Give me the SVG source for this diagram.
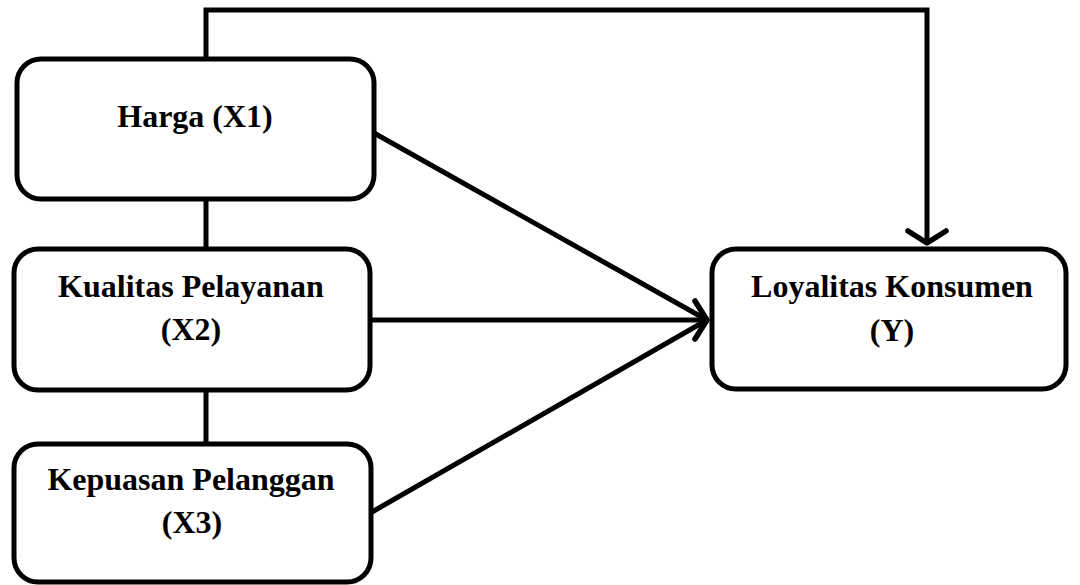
<svg xmlns="http://www.w3.org/2000/svg" width="1080" height="585" viewBox="0 0 1080 585">
<style>
.box{fill:#fff;stroke:#000;stroke-width:5}
.lbl{font-family:"Liberation Serif","Times New Roman",serif;font-weight:bold;font-size:32px;fill:#000;text-anchor:middle}
.con{fill:none;stroke:#000;stroke-width:5}
</style>
<defs>
<marker id="ah" markerUnits="userSpaceOnUse" markerWidth="40" markerHeight="50" viewBox="-20 -25 40 50" refX="0" refY="0" orient="auto">
<path d="M-12,-19 L0,0 L-12,19" fill="none" stroke="#000" stroke-width="5.5" stroke-linecap="round" stroke-linejoin="round"/>
</marker>
</defs>
<rect width="1080" height="585" fill="#fff"/>
<g id="connectors">
<path class="con" d="M206,59 V10 H927 V243" marker-end="url(#ah)"/>
<line class="con" x1="206" y1="199" x2="206" y2="249"/>
<line class="con" x1="206" y1="390" x2="206" y2="444"/>
<line class="con" x1="374" y1="133" x2="707" y2="320"/>
<line class="con" x1="370" y1="320" x2="707" y2="320" marker-end="url(#ah)"/>
<line class="con" x1="372" y1="512" x2="707" y2="320"/>
</g>
<g id="x1">
<rect class="box" x="17" y="59" width="357" height="140" rx="24"/>
<text class="lbl" x="195" y="127">Harga (X1)</text>
</g>
<g id="x2">
<rect class="box" x="14" y="249" width="356" height="141" rx="24"/>
<text class="lbl" x="191" y="297">Kualitas Pelayanan</text>
<text class="lbl" x="191" y="340">(X2)</text>
</g>
<g id="x3">
<rect class="box" x="14" y="444" width="357" height="138" rx="24"/>
<text class="lbl" x="191" y="490">Kepuasan Pelanggan</text>
<text class="lbl" x="192" y="533">(X3)</text>
</g>
<g id="y">
<rect class="box" x="712" y="249" width="354" height="140" rx="24"/>
<text class="lbl" x="892" y="297">Loyalitas Konsumen</text>
<text class="lbl" x="892" y="341">(Y)</text>
</g>
</svg>
